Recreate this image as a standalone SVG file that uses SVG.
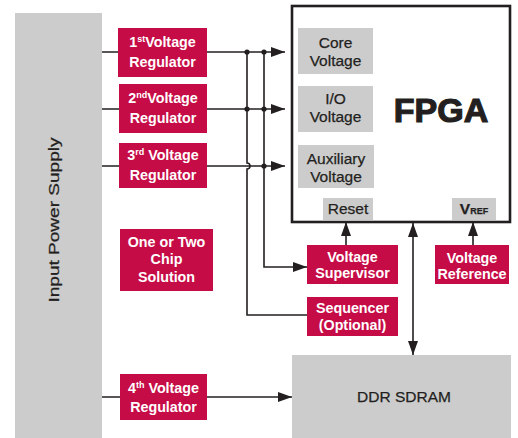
<svg xmlns="http://www.w3.org/2000/svg" width="518" height="438" viewBox="0 0 518 438">
<style>
.red{fill:#C60C46}
.gray{fill:#CCCCCC}
.wt{fill:#fff;font-family:"Liberation Sans",Arial,sans-serif;font-weight:bold;font-size:14.3px;text-anchor:middle}
.dt{fill:#231F20;font-family:"Liberation Sans",Arial,sans-serif;font-size:15.5px;text-anchor:middle;stroke:#231F20;stroke-width:0.25}
.ln{fill:none;stroke:#231F20;stroke-width:1.6}
</style>
<defs>
<marker id="ah" viewBox="0 0 14 10" refX="14" refY="5" markerWidth="14" markerHeight="10" markerUnits="userSpaceOnUse" orient="auto-start-reverse">
<path d="M0,0 L14,5 L0,10 Z" fill="#231F20"/>
</marker>
</defs>
<rect width="518" height="438" fill="#fff"/>

<g id="input-power-supply">
<rect class="gray" x="15" y="13" width="87" height="425"/>
<text class="dt" transform="translate(59,220) rotate(-90)" font-size="18" textLength="165" lengthAdjust="spacingAndGlyphs">Input Power Supply</text>
</g>

<g id="fpga">
<rect x="292" y="6" width="218" height="216" fill="#fff" stroke="#231F20" stroke-width="2.6"/>
<text x="441" y="122" font-family="'Liberation Sans',Arial,sans-serif" font-weight="bold" font-size="34" fill="#231F20" stroke="#231F20" stroke-width="1.2" text-anchor="middle">FPGA</text>
</g>
<g id="core-voltage">
<rect class="gray" x="298" y="28" width="75" height="46"/>
<text class="dt" x="335.5" y="48">Core</text>
<text class="dt" x="335.5" y="66">Voltage</text>
</g>
<g id="io-voltage">
<rect class="gray" x="298" y="86" width="75" height="46"/>
<text class="dt" x="335.5" y="104">I/O</text>
<text class="dt" x="335.5" y="122">Voltage</text>
</g>
<g id="aux-voltage">
<rect class="gray" x="298" y="145" width="76" height="43"/>
<text class="dt" x="336" y="164">Auxiliary</text>
<text class="dt" x="336" y="182">Voltage</text>
</g>
<g id="reset">
<rect class="gray" x="323" y="198" width="50" height="22"/>
<text class="dt" x="348" y="214">Reset</text>
</g>
<g id="vref">
<rect class="gray" x="452" y="198" width="44" height="22"/>
<text class="dt" x="474" y="214" font-weight="bold" font-size="14">V<tspan font-size="9">REF</tspan></text>
</g>

<g id="reg1">
<rect class="red" x="118" y="28" width="89" height="49"/>
<text class="wt" x="162.5" y="47">1<tspan font-size="9" dy="-5">st</tspan><tspan dy="5">Voltage</tspan></text>
<text class="wt" x="162.5" y="67">Regulator</text>
</g>
<g id="reg2">
<rect class="red" x="119" y="84" width="88" height="49"/>
<text class="wt" x="163" y="103">2<tspan font-size="9" dy="-5">nd</tspan><tspan dy="5">Voltage</tspan></text>
<text class="wt" x="163" y="123">Regulator</text>
</g>
<g id="reg3">
<rect class="red" x="119" y="143" width="88" height="45"/>
<text class="wt" x="163" y="160">3<tspan font-size="9" dy="-5">rd</tspan><tspan dy="5"> Voltage</tspan></text>
<text class="wt" x="163" y="180">Regulator</text>
</g>
<g id="chip-solution">
<rect class="red" x="120" y="229" width="93" height="62"/>
<text class="wt" x="166.5" y="247">One or Two</text>
<text class="wt" x="166.5" y="264">Chip</text>
<text class="wt" x="166.5" y="282">Solution</text>
</g>
<g id="supervisor">
<rect class="red" x="307" y="245" width="91" height="39"/>
<text class="wt" x="352.5" y="262">Voltage</text>
<text class="wt" x="352.5" y="278">Supervisor</text>
</g>
<g id="sequencer">
<rect class="red" x="307" y="297" width="91" height="39"/>
<text class="wt" x="352.5" y="313">Sequencer</text>
<text class="wt" x="352.5" y="330">(Optional)</text>
</g>
<g id="reference">
<rect class="red" x="435" y="245" width="74" height="39"/>
<text class="wt" x="472" y="263">Voltage</text>
<text class="wt" x="472" y="279">Reference</text>
</g>
<g id="reg4">
<rect class="red" x="120" y="374" width="87" height="46"/>
<text class="wt" x="163.5" y="393">4<tspan font-size="9" dy="-5">th</tspan><tspan dy="5"> Voltage</tspan></text>
<text class="wt" x="163.5" y="412">Regulator</text>
</g>
<g id="ddr">
<rect class="gray" x="292" y="355" width="219" height="83"/>
<text class="dt" x="404" y="402" font-size="14.5">DDR SDRAM</text>
</g>

<g id="connectors">
<path class="ln" d="M102,52 H118 M102,109 H119 M102,166 H119 M102,397 H120"/>
<path class="ln" d="M207,52 H285" marker-end="url(#ah)"/>
<path class="ln" d="M207,109 H285" marker-end="url(#ah)"/>
<path class="ln" d="M207,166 H285" marker-end="url(#ah)"/>
<path class="ln" d="M247,52 V163 A3,3 0 0 1 247,169 V315 H307"/>
<path class="ln" d="M264,52 V267 H307" marker-end="url(#ah)"/>
<path class="ln" d="M346,245 V222" marker-end="url(#ah)"/>
<path class="ln" d="M473,245 V222" marker-end="url(#ah)"/>
<path class="ln" d="M413,223 V355" marker-start="url(#ah)" marker-end="url(#ah)"/>
<path class="ln" d="M207,397 H292" marker-end="url(#ah)"/>
<g fill="#231F20">
<circle cx="247" cy="52" r="2.6"/>
<circle cx="247" cy="109" r="2.6"/>
<circle cx="264" cy="52" r="2.6"/>
<circle cx="264" cy="109" r="2.6"/>
<circle cx="264" cy="166" r="2.6"/>
</g>
</g>
</svg>
